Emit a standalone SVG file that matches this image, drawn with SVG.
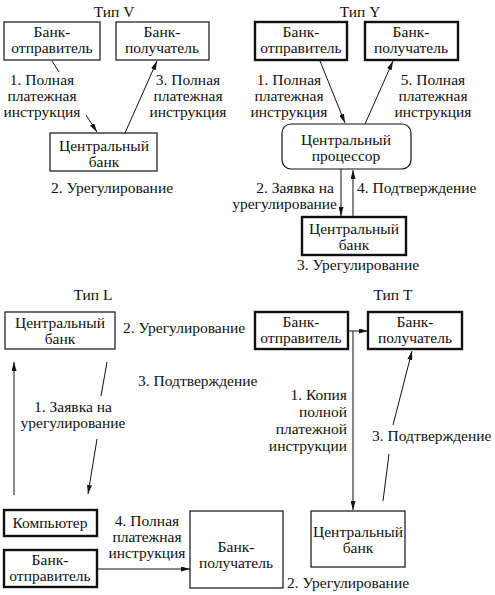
<svg xmlns="http://www.w3.org/2000/svg" width="495" height="595" viewBox="0 0 495 595">
<defs>
<style>
text{font-family:"Liberation Serif","Times New Roman",serif;font-size:15.5px;fill:#111;}
.c{text-anchor:middle}
.e{text-anchor:end}
.thin{fill:#fff;stroke:#111;stroke-width:1.2}
.thick{fill:#fff;stroke:#111;stroke-width:2.4}
.ln{stroke:#111;stroke-width:1;fill:none}
.ar{stroke:#111;stroke-width:1;fill:none;marker-end:url(#ah)}
</style>
<marker id="ah" markerWidth="9" markerHeight="5" refX="9" refY="2.5" orient="auto" markerUnits="userSpaceOnUse">
<path d="M0,0 L9,2.5 L0,5 Z" fill="#111"/>
</marker>
</defs>
<rect width="495" height="595" fill="#fff"/>

<!-- Titles and free labels -->
<g id="labels">
<text class="c" x="114" y="17">Тип V</text>
<text class="c" x="112" y="193">2. Урегулирование</text>
<text class="c" x="42" y="85">1. Полная</text>
<text class="c" x="42" y="101">платежная</text>
<text class="c" x="42" y="117">инструкция</text>
<text class="c" x="188" y="85">3. Полная</text>
<text class="c" x="188" y="101">платежная</text>
<text class="c" x="188" y="117">инструкция</text>

<text class="c" x="360" y="17">Тип Y</text>
<text class="c" x="289" y="85">1. Полная</text>
<text class="c" x="289" y="101">платежная</text>
<text class="c" x="289" y="117">инструкция</text>
<text class="c" x="433" y="85">5. Полная</text>
<text class="c" x="433" y="101">платежная</text>
<text class="c" x="433" y="117">инструкция</text>
<text class="e" x="334" y="193">2. Заявка на</text>
<text class="e" x="337" y="209">урегулирование</text>
<text x="357" y="193">4. Подтверждение</text>
<text class="c" x="358" y="270">3. Урегулирование</text>

<text class="c" x="93" y="300">Тип L</text>
<text x="123" y="333">2. Урегулирование</text>
<text x="138" y="386">3. Подтверждение</text>
<text class="c" x="73" y="412">1. Заявка на</text>
<text class="c" x="73" y="428">урегулирование</text>
<text class="c" x="147" y="526">4. Полная</text>
<text class="c" x="147" y="542">платежная</text>
<text class="c" x="147" y="558">инструкция</text>

<text class="c" x="393" y="300">Тип T</text>
<text class="e" x="347" y="400">1. Копия</text>
<text class="e" x="347" y="417">полной</text>
<text class="e" x="347" y="434">платежной</text>
<text class="e" x="347" y="451">инструкции</text>
<text x="372" y="441">3. Подтверждение</text>
<text class="c" x="348" y="588">2. Урегулирование</text>
</g>

<!-- Type V nodes -->
<g id="v-sender"><rect class="thin" x="4" y="22" width="96" height="38"/><text class="c" x="52" y="37">Банк-</text><text class="c" x="52" y="53">отправитель</text></g>
<g id="v-receiver"><rect class="thin" x="116" y="22" width="93" height="38"/><text class="c" x="162" y="37">Банк-</text><text class="c" x="162" y="53">получатель</text></g>
<g id="v-cb"><rect class="thin" x="50" y="133" width="107" height="38"/><text class="c" x="104" y="151">Центральный</text><text class="c" x="104" y="167">банк</text></g>

<!-- Type Y nodes -->
<g id="y-sender"><rect class="thick" x="255" y="22" width="92" height="38"/><text class="c" x="301" y="37">Банк-</text><text class="c" x="301" y="53">отправитель</text></g>
<g id="y-receiver"><rect class="thick" x="365" y="22" width="93" height="38"/><text class="c" x="411" y="37">Банк-</text><text class="c" x="411" y="53">получатель</text></g>
<g id="y-proc"><rect class="thin" x="282" y="124" width="129" height="45" rx="9"/><text class="c" x="346" y="145">Центральный</text><text class="c" x="346" y="161">процессор</text></g>
<g id="y-cb"><rect class="thick" x="302" y="217" width="104" height="38"/><text class="c" x="354" y="234">Центральный</text><text class="c" x="354" y="250">банк</text></g>

<!-- Type L nodes -->
<g id="l-cb"><rect class="thin" x="5" y="312" width="110" height="37"/><text class="c" x="60" y="328">Центральный</text><text class="c" x="60" y="344">банк</text></g>
<g id="l-comp"><rect class="thick" x="4" y="510" width="93" height="26"/><text class="c" x="50" y="528">Компьютер</text></g>
<g id="l-sender"><rect class="thick" x="4" y="550" width="93" height="37"/><text class="c" x="50" y="565">Банк-</text><text class="c" x="50" y="581">отправитель</text></g>
<g id="l-receiver"><rect class="thin" x="190" y="511" width="93" height="77"/><text class="c" x="236" y="552">Банк-</text><text class="c" x="236" y="568">получатель</text></g>

<!-- Type T nodes -->
<g id="t-sender"><rect class="thick" x="255" y="312" width="93" height="37"/><text class="c" x="301" y="327">Банк-</text><text class="c" x="301" y="343">отправитель</text></g>
<g id="t-receiver"><rect class="thick" x="368" y="312" width="94" height="37"/><text class="c" x="415" y="327">Банк-</text><text class="c" x="415" y="343">получатель</text></g>
<g id="t-cb"><rect class="thin" x="311" y="511" width="94" height="56"/><text class="c" x="358" y="537">Центральный</text><text class="c" x="358" y="553">банк</text></g>

<!-- Connectors -->
<g id="connectors">
<line class="ln" x1="52" y1="61" x2="59" y2="72"/>
<line class="ar" x1="86" y1="115" x2="97" y2="132"/>
<line class="ar" x1="125" y1="133" x2="157" y2="61"/>

<line class="ar" x1="320" y1="61" x2="345" y2="123"/>
<line class="ar" x1="365" y1="124" x2="393" y2="61"/>
<line class="ar" x1="341" y1="169" x2="341" y2="216"/>
<line class="ar" x1="353" y1="217" x2="353" y2="170"/>

<line class="ar" x1="14" y1="495" x2="14" y2="362"/>
<line class="ln" x1="107" y1="362" x2="101" y2="396"/>
<line class="ar" x1="97" y1="439" x2="88" y2="494"/>
<line class="ar" x1="97" y1="569" x2="190" y2="569"/>

<line class="ar" x1="348" y1="331" x2="368" y2="331"/>
<line class="ar" x1="353" y1="331" x2="353" y2="510"/>
<line class="ln" x1="383" y1="501" x2="389" y2="454"/>
<line class="ar" x1="393" y1="425" x2="412" y2="351"/>
</g>
</svg>
